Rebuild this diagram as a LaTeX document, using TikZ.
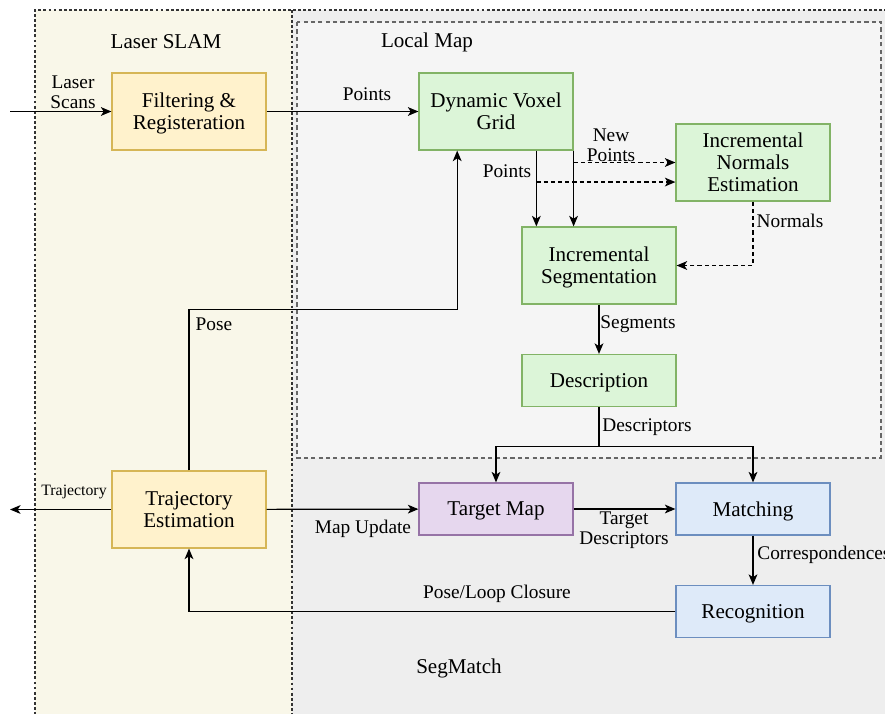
\documentclass[tikz,border=0pt]{standalone}
\usepackage{fontspec}
\setmainfont{Liberation Serif}
\usetikzlibrary{arrows.meta,calc}
\definecolor{slamfill}{HTML}{F9F7E9}
\definecolor{segfill}{HTML}{EEEEEE}
\definecolor{lmfill}{HTML}{F5F5F5}
\definecolor{yfill}{HTML}{FFF2CC}
\definecolor{ydraw}{HTML}{D6B656}
\definecolor{gfill}{HTML}{DCF5D8}
\definecolor{gdraw}{HTML}{82B366}
\definecolor{pfill}{HTML}{E6D7EE}
\definecolor{pdraw}{HTML}{9673A6}
\definecolor{bfill}{HTML}{DEEAF9}
\definecolor{bdraw}{HTML}{6C8EBF}
\tikzset{
  box/.style={draw, line width=0.7pt, minimum width=3.08cm, minimum height=1.54cm,
    align=center, inner sep=1pt, text depth=0pt, font=\fontsize{12}{12.5}\selectfont},
  lowbox/.style={box, minimum height=1.04cm},
  slambox/.style={box, fill=yfill, draw=ydraw},
  mapbox/.style={box, fill=gfill, draw=gdraw},
  lbl/.style={align=center, inner sep=0pt, font=\fontsize{11}{11.3}\selectfont},
  title/.style={inner sep=0pt, font=\fontsize{12}{14}\selectfont},
  arr/.style={line width=0.7pt, -{Stealth[length=6pt,width=5pt,inset=1.6pt]}},
  dasharr/.style={arr, dash pattern=on 2.4pt off 1.7pt},
  regionline/.style={draw=black!80, line width=0.6pt, dash pattern=on 1.6pt off 1.3pt},
}
\begin{document}
\begin{tikzpicture}[x=0.02cm, y=-0.02cm]
\useasboundingbox (0,0) rectangle (885,713);
% regions
\fill[slamfill] (35,10) rectangle (292,720);
\fill[segfill] (292,10) rectangle (890,720);
\draw[regionline] (35,720) -- (35,10) -- (890,10);
\draw[regionline] (292,10) -- (292,720);
\filldraw[fill=lmfill, draw=black!60, line width=0.6pt, dash pattern=on 2.4pt off 1.8pt] (297,22) rectangle (881,458);
\node[title] (t-slam) at (166,42) {Laser SLAM};
\node[title] (t-lmap) at (427,42) {Local Map};
\node[title] (t-seg)  at (459,668) {SegMatch};
% nodes
\node[slambox] (filt)  at (189,111.5) {Filtering \&\\Registeration};
\node[slambox] (traj)  at (189,509.5) {Trajectory\\Estimation};
\node[mapbox]  (dvg)   at (496,111.5) {Dynamic Voxel\\Grid};
\node[mapbox]  (norm)  at (753,162.5) {Incremental\\Normals\\Estimation};
\node[mapbox]  (iseg)  at (599,265.5) {Incremental\\Segmentation};
\node[mapbox, lowbox] (desc)  at (599,380.5) {Description};
\node[lowbox, fill=pfill, draw=pdraw] (tmap)  at (496,509) {Target Map};
\node[lowbox, fill=bfill, draw=bdraw] (match) at (753,509) {Matching};
\node[lowbox, fill=bfill, draw=bdraw] (recog) at (753,611.5) {Recognition};
\coordinate (scan-in)  at (10,111.5);
\coordinate (traj-out) at (10,509.5);
\coordinate (pose-in)  at ($(dvg.south)!0.5!(dvg.south west)$);
\coordinate (pts-out)  at ($(dvg.south west)!0.76!(dvg.south east)$);
\coordinate (new-in)   at ($(norm.west)!0.5!(norm.south west)$);
% labels
\node[lbl] (l-scan)  at (73,92) {Laser\\Scans};
\node[lbl] (l-pts)   at (367,94) {Points};
\node[lbl] (l-pts2)  at (507,171) {Points};
\node[lbl] (l-new)   at (611,145) {New\\Points};
\node[lbl] (l-norm)  at (790,221) {Normals};
\node[lbl] (l-segs)  at (638,324) {Segments};
\node[lbl] (l-desc)  at (647,427) {Descriptors};
\node[lbl] (l-tdesc) at (624,530) {Target\\Descriptors};
\node[lbl, anchor=west] (l-corr) at (757,555) {Correspondences};
\node[lbl] (l-loop)  at (497,594) {Pose/Loop Closure};
\node[lbl] (l-upd)   at (363,529) {Map Update};
\node[lbl, font=\fontsize{9}{10}\selectfont] (l-traj) at (74,492) {Trajectory};
\node[lbl] (l-pose)  at (214,324) {Pose};
% arrows
\draw[arr] (scan-in) -- (filt);
\draw[arr] (filt) -- (dvg);
\draw[arr] (pts-out) -- (pts-out |- iseg.north);
\draw[arr] (dvg.south east) -- (dvg.south east |- iseg.north);
\draw[dasharr] (dvg.south east |- norm.west) -- (norm.west);
\draw[dasharr] (pts-out |- new-in) -- (new-in);
\draw[dasharr] (norm.south) |- (iseg.east);
\draw[arr] (iseg) -- (desc);
\draw[arr] (desc.south) -- ++(0,39) -| (tmap.north);
\draw[arr] (desc.south) -- ++(0,39) -| (match.north);
\draw[arr] (tmap) -- (match);
\draw[arr] (match) -- (recog);
\draw[arr] (recog.west) -| (traj.south);
\draw[arr] (traj) -- (tmap);
\draw[arr] (traj) -- (traj-out);
\draw[arr] (traj.north) -- ++(0,-161) -| (pose-in);
\end{tikzpicture}
\end{document}
